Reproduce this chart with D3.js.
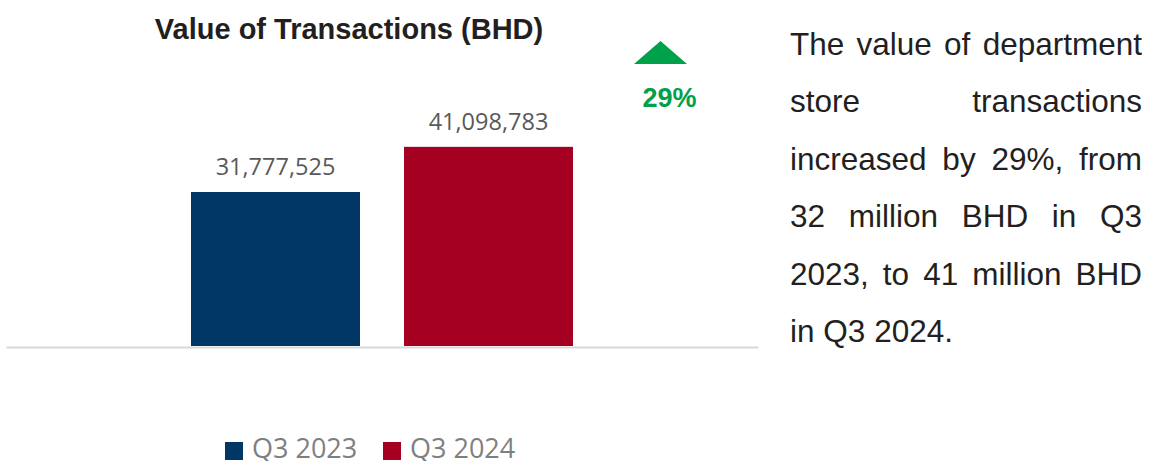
<!DOCTYPE html>
<html>
<head>
<meta charset="utf-8">
<script src="https://cdn.jsdelivr.net/npm/d3@7"></script>
<style>
  body { margin: 0; background: #fff; }
</style>
</head>
<body>
<div id="chart"></div>
<script>
// chart data
var categories = ["Q3 2023", "Q3 2024"];
var values = [31777525, 41098783];
var colors = ["#003764", "#a50021"];
var changeLabel = "29%";
var titleText = "Value of Transactions (BHD)";
var noteLines = [
  "The value of department",
  "store transactions",
  "increased by 29%, from",
  "32 million BHD in Q3",
  "2023, to 41 million BHD",
  "in Q3 2024."
];

var W = 1156, H = 461;

var svg = d3.select("#chart").append("svg")
  .attr("width", W)
  .attr("height", H);

// scales
var x = d3.scaleBand()
  .domain(categories)
  .range([6, 758])
  .paddingInner(0.2066)
  .paddingOuter(0.8686);

var y = d3.scaleLinear()
  .domain([0, 50000000])
  .range([346, 103.7]);

// title
svg.append("text")
  .attr("x", 349)
  .attr("y", 39)
  .attr("text-anchor", "middle")
  .style("font-family", "'Liberation Sans', Arial, sans-serif")
  .style("font-weight", "bold")
  .style("font-size", "29px")
  .attr("fill", "#231f20")
  .text(titleText);

// bars
svg.append("g")
  .selectAll("rect")
  .data(values)
  .enter()
  .append("rect")
    .attr("x", function(d, i) { return x(categories[i]); })
    .attr("y", function(d) { return y(d); })
    .attr("width", x.bandwidth())
    .attr("height", function(d) { return y(0) - y(d); })
    .attr("fill", function(d, i) { return colors[i]; });

// baseline
var axis = svg.append("g")
  .attr("transform", "translate(0," + (y(0) + 1) + ")")
  .call(d3.axisBottom(x).tickSize(0).tickFormat(""));
axis.select(".domain")
  .attr("stroke", "#d9d9d9")
  .attr("stroke-width", 2);

// value labels
svg.append("g")
  .selectAll("text")
  .data(values)
  .enter()
  .append("text")
    .attr("x", function(d, i) { return x(categories[i]) + x.bandwidth() / 2; })
    .attr("y", function(d) { return y(d) - 17; })
    .attr("text-anchor", "middle")
    .style("font-family", "'Open Sans', sans-serif")
    .style("font-size", "23.5px")
    .attr("fill", "#595959")
    .text(function(d) { return d3.format(",")(d); });

// growth arrow
svg.append("path")
  .attr("d", "M660.5,41 L687,64 L634,64 Z")
  .attr("fill", "#00a14b");

svg.append("text")
  .attr("x", 669.5)
  .attr("y", 107)
  .attr("text-anchor", "middle")
  .style("font-family", "'Liberation Sans', Arial, sans-serif")
  .style("font-weight", "bold")
  .style("font-size", "27px")
  .attr("fill", "#00a14b")
  .text(changeLabel);

// legend (sits right at the bottom edge, like the original)
var legend = svg.append("g")
  .selectAll("g")
  .data(categories)
  .enter()
  .append("g")
    .attr("transform", function(d, i) { return "translate(" + (225 + i * 158) + ",442)"; });

legend.append("rect")
  .attr("width", 18)
  .attr("height", 18)
  .attr("fill", function(d, i) { return colors[i]; });

legend.append("text")
  .attr("x", 27)
  .attr("y", 16)
  .style("font-family", "'Open Sans', sans-serif")
  .style("font-size", "27px")
  .attr("fill", "#7f7f7f")
  .text(function(d) { return d; });

// justified note on the right
var noteLeft = 790, noteRight = 1142;
var note = svg.append("g")
  .style("font-family", "'Liberation Sans', Arial, sans-serif")
  .style("font-size", "31.5px")
  .attr("fill", "#231f20");

noteLines.forEach(function(line, li) {
  var words = line.split(" ");
  var by = 55 + li * 57.4;
  var nodes = words.map(function(w) {
    return note.append("text").attr("y", by).text(w);
  });
  var widths = nodes.map(function(n) { return n.node().getComputedTextLength(); });
  var total = d3.sum(widths);
  var last = li === noteLines.length - 1;
  var gap = (!last && words.length > 1) ? (noteRight - noteLeft - total) / (words.length - 1) : 8.8;
  var cx = noteLeft;
  nodes.forEach(function(n, i) {
    n.attr("x", cx);
    cx += widths[i] + gap;
  });
});
</script>
</body>
</html>
